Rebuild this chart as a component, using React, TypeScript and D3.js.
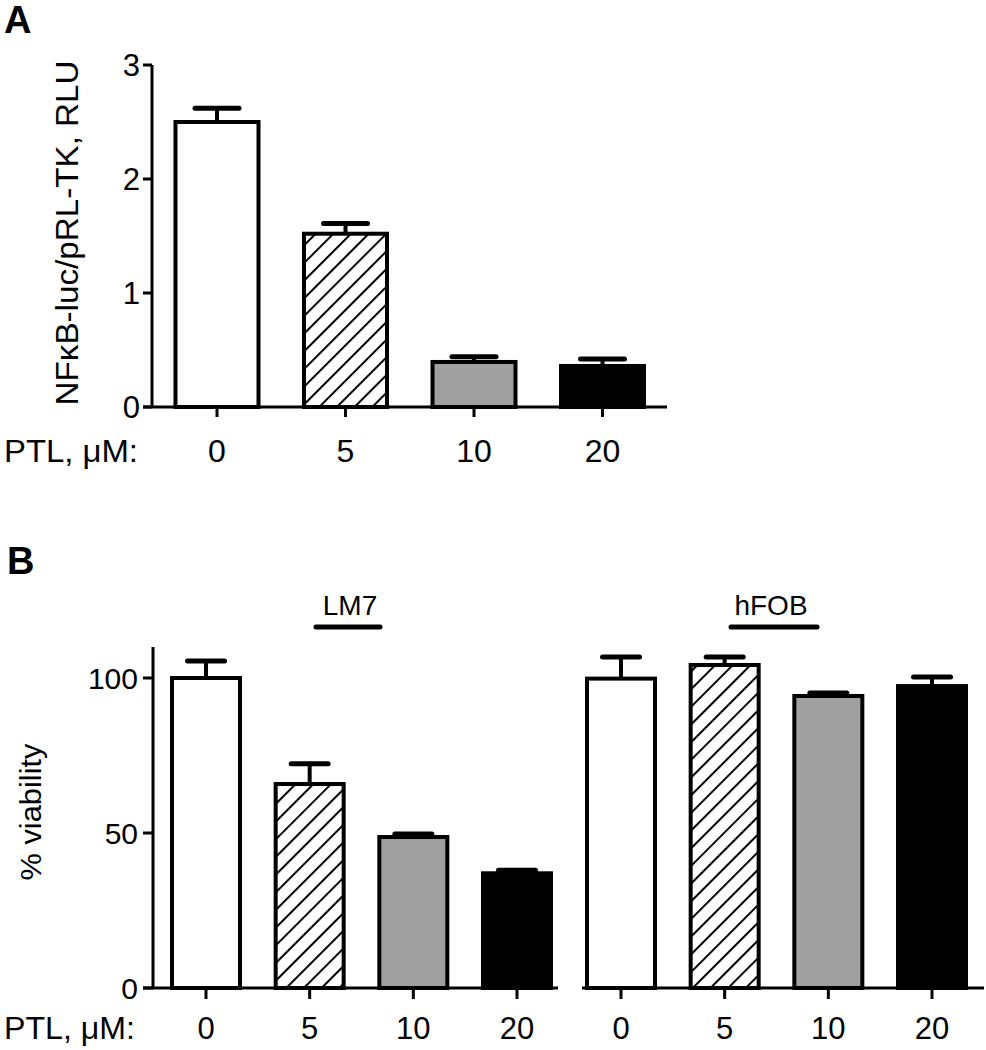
import React from "react";
import * as d3 from "d3";

const doses = ["0", "5", "10", "20"];
const nfkbMean = [2.5, 1.52, 0.395, 0.36];
const nfkbErr = [0.12, 0.09, 0.045, 0.06];
const lm7Mean = [100, 65.8, 48.7, 37];
const lm7Err = [5.5, 6.5, 1.0, 1.0];
const hfobMean = [99.8, 104.2, 94.2, 97.4];
const hfobErr = [7, 2.6, 1.0, 2.9];
const aTicks = [0, 1, 2, 3];
const bTicks = [0, 50, 100];
const fills = ["#ffffff", "url(#hatch)", "#a0a0a0", "#000000"];

const FONT = "'Liberation Sans', Arial, sans-serif";

function Bars({ x, y, means, errs, barW, capW }: any) {
  return (
    <g>
      {doses.map((d, i) => {
        const cx = x(d);
        const top = y(means[i]);
        const base = y(0);
        const et = y(means[i] + errs[i]);
        return (
          <g key={d}>
            <line x1={cx} x2={cx} y1={top} y2={et} stroke="#000" strokeWidth={4} />
            <line x1={cx - capW / 2} x2={cx + capW / 2} y1={et} y2={et} stroke="#000" strokeWidth={5} strokeLinecap="round" />
            <rect x={cx - barW / 2} y={top} width={barW} height={base - top} fill={fills[i]} stroke="#000" strokeWidth={4} />
          </g>
        );
      })}
    </g>
  );
}

export default function App() {
  // Panel A
  const yA = d3.scaleLinear().domain([0, 3]).range([407, 65]);
  const xA = d3.scalePoint<string>().domain(doses).range([217, 602.5]);
  // Panel B
  const yB = d3.scaleLinear().domain([0, 110]).range([988, 647]);
  const xBL = d3.scalePoint<string>().domain(doses).range([206, 517]);
  const xBR = d3.scalePoint<string>().domain(doses).range([621, 932]);

  return (
    <svg width={986} height={1050} style={{ position: "absolute", left: 0, top: 0, background: "#fff" }} fontFamily={FONT}>
      <defs>
        <pattern id="hatch" patternUnits="userSpaceOnUse" width={12.5} height={12.5} patternTransform="rotate(45)">
          <rect width={12.5} height={12.5} fill="#fff" />
          <line x1={0} y1={0} x2={0} y2={12.5} stroke="#000" strokeWidth={4} />
        </pattern>
      </defs>
      <rect width={986} height={1050} fill="#fff" />

      {/* Panel A */}
      <text x={4} y={33} fontSize={38} fontWeight="bold">A</text>
      <Bars x={xA} y={yA} means={nfkbMean} errs={nfkbErr} barW={83} capW={44} />
      <line x1={152} x2={152} y1={yA(3)} y2={yA(0)} stroke="#000" strokeWidth={3} />
      {aTicks.map((t) => (
        <g key={t}>
          <line x1={143} x2={152} y1={yA(t)} y2={yA(t)} stroke="#000" strokeWidth={3} />
          <text x={140} y={yA(t) + 11} fontSize={31} textAnchor="end">{t}</text>
        </g>
      ))}
      <line x1={143} x2={667} y1={yA(0)} y2={yA(0)} stroke="#000" strokeWidth={3} />
      {doses.map((d) => (
        <g key={d}>
          <line x1={xA(d)} x2={xA(d)} y1={yA(0)} y2={yA(0) + 10} stroke="#000" strokeWidth={3} />
          <text x={xA(d)} y={462} fontSize={32} textAnchor="middle">{d}</text>
        </g>
      ))}
      <text x={4} y={462} fontSize={32} textLength={134} lengthAdjust="spacingAndGlyphs">PTL, μM:</text>
      <text transform="translate(78,233) rotate(-90)" fontSize={31} textAnchor="middle" textLength={345} lengthAdjust="spacingAndGlyphs">NFκB-luc/pRL-TK, RLU</text>

      {/* Panel B */}
      <text x={7} y={574} fontSize={38} fontWeight="bold">B</text>
      <text x={350} y={615} fontSize={28} textAnchor="middle">LM7</text>
      <line x1={316} x2={380} y1={627} y2={627} stroke="#000" strokeWidth={5} strokeLinecap="round" />
      <text x={771} y={615} fontSize={28} textAnchor="middle">hFOB</text>
      <line x1={731} x2={817} y1={627} y2={627} stroke="#000" strokeWidth={5} strokeLinecap="round" />

      <Bars x={xBL} y={yB} means={lm7Mean} errs={lm7Err} barW={68} capW={37} />
      <Bars x={xBR} y={yB} means={hfobMean} errs={hfobErr} barW={68} capW={37} />

      <line x1={153} x2={153} y1={yB(110)} y2={yB(0)} stroke="#000" strokeWidth={3} />
      {bTicks.map((t) => (
        <g key={t}>
          <line x1={143} x2={153} y1={yB(t)} y2={yB(t)} stroke="#000" strokeWidth={3} />
          <text x={138} y={yB(t) + 10.5} fontSize={30} textAnchor="end">{t}</text>
        </g>
      ))}
      <line x1={143} x2={558} y1={yB(0)} y2={yB(0)} stroke="#000" strokeWidth={3} />
      <line x1={582} x2={984} y1={yB(0)} y2={yB(0)} stroke="#000" strokeWidth={3} />
      {doses.map((d) => (
        <g key={d}>
          <line x1={xBL(d)} x2={xBL(d)} y1={yB(0)} y2={yB(0) + 11} stroke="#000" strokeWidth={3} />
          <text x={xBL(d)} y={1039} fontSize={31} textAnchor="middle">{d}</text>
          <line x1={xBR(d)} x2={xBR(d)} y1={yB(0)} y2={yB(0) + 11} stroke="#000" strokeWidth={3} />
          <text x={xBR(d)} y={1039} fontSize={31} textAnchor="middle">{d}</text>
        </g>
      ))}
      <text x={4} y={1039} fontSize={31} textLength={131} lengthAdjust="spacingAndGlyphs">PTL, μM:</text>
      <text transform="translate(41,812) rotate(-90)" fontSize={30} textAnchor="middle" textLength={137} lengthAdjust="spacingAndGlyphs">% viability</text>
    </svg>
  );
}
